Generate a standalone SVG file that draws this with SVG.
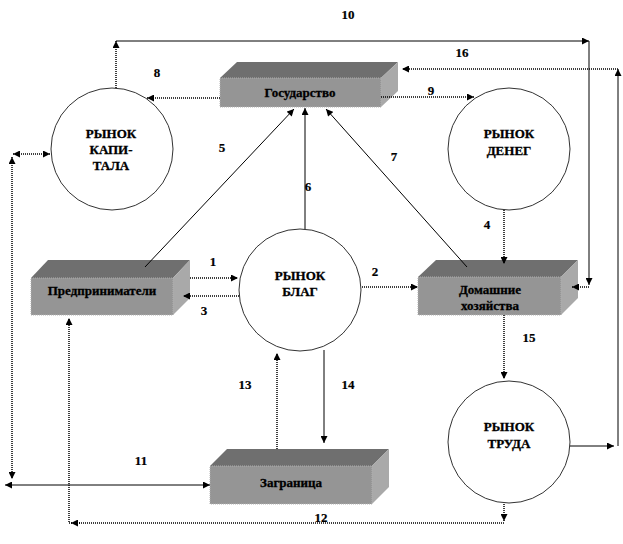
<svg xmlns="http://www.w3.org/2000/svg" width="623" height="544" viewBox="0 0 623 544">
<defs>
<marker id="ah" viewBox="0 0 10 10" refX="10" refY="5" markerWidth="8" markerHeight="7" orient="auto-start-reverse" markerUnits="userSpaceOnUse">
<path d="M0,0 L10,5 L0,10 z" fill="#000"/>
</marker>
</defs>
<style>
.top{fill:#6f6f6f}
.front{fill:#959595;stroke:#b0b0b0;stroke-width:1;stroke-dasharray:1 1}
.side{fill:#a9a9a9}
.circ{fill:#fff;stroke:#333;stroke-width:1}
.t{font-family:"Liberation Serif","Times New Roman",serif;font-weight:bold;font-size:13px;fill:#000;stroke:#000;stroke-width:0.3;text-anchor:middle}
.n{font-family:"Liberation Serif","Times New Roman",serif;font-weight:bold;font-size:13px;fill:#000;stroke:#000;stroke-width:0.2;text-anchor:middle}
.dot{fill:none;stroke:#000;stroke-width:1.5;stroke-dasharray:1 1}
.sol{fill:none;stroke:#000;stroke-width:1}
</style>
<rect width="623" height="544" fill="#fff"/>

<g id="capital-market">
<circle class="circ" cx="112" cy="149" r="61"/>
<text class="t" x="111" y="138">РЫНОК</text>
<text class="t" x="111" y="154">КАПИ-</text>
<text class="t" x="111" y="170">ТАЛА</text>
</g>
<g id="money-market">
<circle class="circ" cx="509" cy="149" r="61"/>
<text class="t" x="509" y="138">РЫНОК</text>
<text class="t" x="509" y="155">ДЕНЕГ</text>
</g>
<g id="goods-market">
<circle class="circ" cx="300" cy="290" r="61"/>
<text class="t" x="300" y="280">РЫНОК</text>
<text class="t" x="300" y="296">БЛАГ</text>
</g>
<g id="labour-market">
<circle class="circ" cx="509" cy="442" r="61"/>
<text class="t" x="509" y="431">РЫНОК</text>
<text class="t" x="509" y="448">ТРУДА</text>
</g>

<g id="state">
<polygon class="top" points="220,78 237,62 398,62 381,78"/>
<polygon class="side" points="381,78 398,62 398,91 381,107"/>
<rect class="front" x="220" y="78" width="161" height="29"/>
<text class="t" x="300" y="97">Государство</text>
</g>
<g id="entrepreneurs">
<polygon class="top" points="31,278 48,260 190,260 173,278"/>
<polygon class="side" points="173,278 190,260 190,298 173,315"/>
<rect class="front" x="31" y="278" width="142" height="37"/>
<text class="t" x="102" y="295">Предприниматели</text>
</g>
<g id="households">
<polygon class="top" points="418,277 436,260 578,260 561,277"/>
<polygon class="side" points="561,277 578,260 578,298 561,315"/>
<rect class="front" x="418" y="277" width="143" height="38"/>
<text class="t" x="490" y="294">Домашние</text>
<text class="t" x="490" y="310">хозяйства</text>
</g>
<g id="abroad">
<polygon class="top" points="210,466 227,449 389,449 372,466"/>
<polygon class="side" points="372,466 389,449 389,487 372,504"/>
<rect class="front" x="210" y="466" width="162" height="38"/>
<text class="t" x="291" y="487">Заграница</text>
</g>

<g id="connectors">
<line class="dot" x1="190" y1="278" x2="238" y2="278" marker-end="url(#ah)"/>
<line class="dot" x1="239" y1="296" x2="183" y2="296" marker-end="url(#ah)"/>
<line class="dot" x1="362" y1="287" x2="418" y2="287" marker-end="url(#ah)"/>
<line class="dot" x1="504" y1="210" x2="504" y2="264" marker-end="url(#ah)"/>
<line class="sol" x1="145" y1="267" x2="294" y2="109" marker-end="url(#ah)"/>
<line class="sol" x1="305" y1="229" x2="305" y2="108" marker-end="url(#ah)"/>
<line class="sol" x1="467" y1="267" x2="326" y2="109" marker-end="url(#ah)"/>
<line class="dot" x1="220" y1="98" x2="147" y2="98" marker-end="url(#ah)"/>
<line class="dot" x1="381" y1="97" x2="474" y2="97" marker-end="url(#ah)"/>
<line class="dot" x1="116" y1="88" x2="116" y2="41" marker-end="url(#ah)"/>
<line class="sol" x1="116" y1="41" x2="589" y2="41" marker-end="url(#ah)"/>
<line class="sol" x1="589" y1="41" x2="589" y2="285" marker-end="url(#ah)"/>
<line class="dot" x1="589" y1="287" x2="572" y2="287" marker-end="url(#ah)"/>
<line class="sol" x1="570" y1="446" x2="614" y2="446" marker-end="url(#ah)"/>
<line class="sol" x1="618" y1="446" x2="618" y2="69" marker-end="url(#ah)"/>
<line class="dot" x1="618" y1="69" x2="402" y2="69" marker-end="url(#ah)"/>
<line class="dot" x1="13" y1="154" x2="50" y2="154" marker-start="url(#ah)" marker-end="url(#ah)"/>
<line class="dot" x1="12" y1="157" x2="12" y2="479" marker-start="url(#ah)" marker-end="url(#ah)"/>
<line class="sol" x1="5" y1="485" x2="210" y2="485" marker-start="url(#ah)" marker-end="url(#ah)"/>
<line class="dot" x1="504" y1="504" x2="504" y2="521" marker-end="url(#ah)"/>
<polyline class="dot" points="504,523 69,523 69,318" marker-end="url(#ah)"/>
<line class="dot" x1="80" y1="523" x2="71" y2="523" marker-end="url(#ah)"/>
<line class="dot" x1="277" y1="449" x2="277" y2="353" marker-end="url(#ah)"/>
<line class="sol" x1="324" y1="350" x2="324" y2="443" marker-end="url(#ah)"/>
<line class="dot" x1="504" y1="315" x2="504" y2="379" marker-end="url(#ah)"/>
</g>

<g id="labels">
<text class="n" x="348" y="19">10</text>
<text class="n" x="462" y="57">16</text>
<text class="n" x="157" y="77">8</text>
<text class="n" x="431" y="95">9</text>
<text class="n" x="222" y="152">5</text>
<text class="n" x="394" y="161">7</text>
<text class="n" x="308" y="191">6</text>
<text class="n" x="487" y="229">4</text>
<text class="n" x="213" y="266">1</text>
<text class="n" x="375" y="276">2</text>
<text class="n" x="204" y="315">3</text>
<text class="n" x="529" y="342">15</text>
<text class="n" x="245" y="389">13</text>
<text class="n" x="348" y="389">14</text>
<text class="n" x="141" y="465">11</text>
<text class="n" x="321" y="522">12</text>
</g>
</svg>
